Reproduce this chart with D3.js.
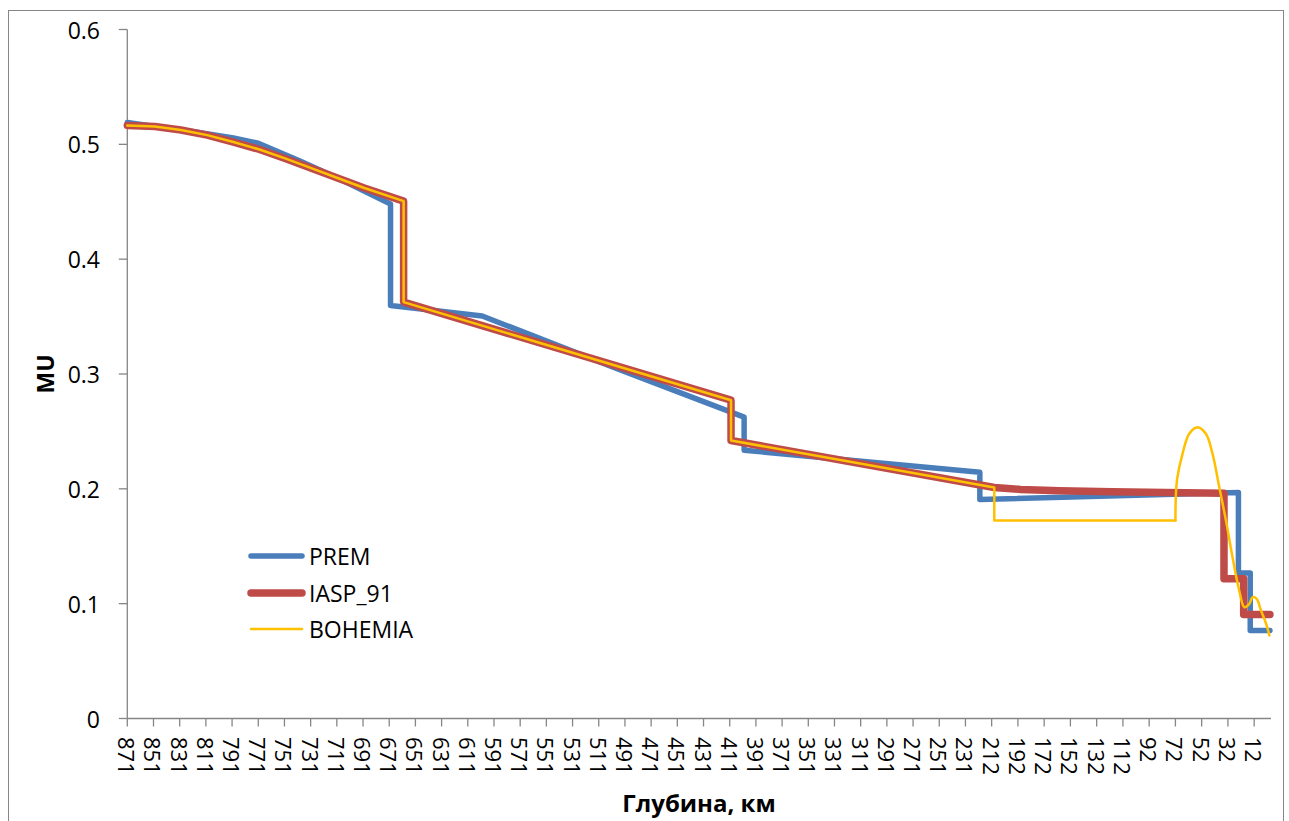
<!DOCTYPE html>
<html>
<head>
<meta charset="utf-8">
<script src="https://cdn.jsdelivr.net/npm/d3@7"></script>
<style>
  body { margin: 0; background: #fff; }
  svg { display: block; }
  text { font-family: "Open Sans", "Noto Sans", "Liberation Sans", sans-serif; fill: #000; }
</style>
</head>
<body>
<svg id="chart" width="1289" height="821"></svg>
<script>
// Depth tick labels along the bottom axis (km)
const depthTicks = [871, 851, 831, 811, 791, 771, 751, 731, 711, 691, 671, 651, 631, 611, 591,
  571, 551, 531, 511, 491, 471, 451, 431, 411, 391, 371, 351, 331, 311, 291, 271, 251, 231,
  212, 192, 172, 152, 132, 112, 92, 72, 52, 32, 12];
const muTicks = [0, 0.1, 0.2, 0.3, 0.4, 0.5, 0.6];
const muTickLabels = ["0", "0.1", "0.2", "0.3", "0.4", "0.5", "0.6"];

// [depth km, MU]; a repeated depth marks a discontinuity
const prem = [
  [871, 0.519], [850, 0.5155], [820, 0.511], [790, 0.5055], [771, 0.501],
  [740, 0.486], [710, 0.4705], [670, 0.448], [670, 0.3597], [600, 0.3505],
  [500, 0.306], [400, 0.2624], [400, 0.2336], [220, 0.2145], [220, 0.1908],
  [24, 0.1968], [24, 0.1268], [15, 0.1268], [15, 0.0766], [0, 0.0766]
];

const iasp91 = [
  [871, 0.5165], [850, 0.5155], [830, 0.5125], [810, 0.508], [790, 0.502],
  [770, 0.4955], [750, 0.4875], [730, 0.479], [710, 0.4705], [690, 0.462],
  [660, 0.4505], [660, 0.3626], [410, 0.2772], [410, 0.2421], [210, 0.2012],
  [190, 0.1995], [160, 0.1983], [120, 0.1975], [80, 0.1969], [35, 0.1962],
  [35, 0.1217], [20, 0.1217], [20, 0.0906], [0, 0.0906]
];

const bohemia = [
  [871, 0.5165], [850, 0.5155], [830, 0.5125], [810, 0.508], [790, 0.502],
  [770, 0.4955], [750, 0.4875], [730, 0.479], [710, 0.4705], [690, 0.462],
  [660, 0.4505], [660, 0.3626], [410, 0.2772], [410, 0.2421], [210, 0.2012],
  [210, 0.1724], [72, 0.1724]
];

// upper-crust part of BOHEMIA, drawn as a smooth curve
const bohemiaCrust = [
  [72, 0.1724], [71.6, 0.196], [70.5, 0.2101], [66.6, 0.2305], [61.5, 0.248],
  [55.2, 0.2537], [48.8, 0.248], [43.7, 0.2305], [38.6, 0.2015], [33.5, 0.1724],
  [28.5, 0.1405], [23.4, 0.1115], [19.5, 0.0969], [15.7, 0.0998], [13.2, 0.1056],
  [10.1, 0.1042], [6.8, 0.094], [2.9, 0.0825], [0.4, 0.0723]
];

const seriesNames = ["PREM", "IASP_91", "BOHEMIA"];
const colors = ["#4A7EBB", "#BE4B48", "#FFC000"];
const widths = [5.5, 7.5, 2.5];

const svg = d3.select("#chart");
const gray = "#868686";

// chart frame
svg.append("rect")
  .attr("x", 8.5).attr("y", 10.5).attr("width", 1275).attr("height", 840)
  .attr("fill", "none").attr("stroke", gray).attr("stroke-width", 1);

const left = 127.3, step = 1.3096;
const x = d3.scaleLinear()
  .domain([871, 220, 219, 0])
  .range([left, left + 651 * step, left + 653 * step, left + 872.5 * step]);
const y = d3.scaleLinear().domain([0, 0.6]).range([718.5, 29.5]);
const axisRight = 1271;

// y axis
const yAxis = svg.append("g");
yAxis.append("line")
  .attr("x1", left).attr("x2", left).attr("y1", y(0.6)).attr("y2", y(0))
  .attr("stroke", gray).attr("stroke-width", 1.3);
yAxis.selectAll("line.tick").data(muTicks).enter().append("line")
  .attr("class", "tick")
  .attr("x1", left - 8.5).attr("x2", left)
  .attr("y1", d => y(d)).attr("y2", d => y(d))
  .attr("stroke", gray).attr("stroke-width", 1.3);
yAxis.selectAll("text").data(muTicks).enter().append("text")
  .attr("x", 100).attr("y", d => y(d))
  .attr("text-anchor", "end").attr("dominant-baseline", "central")
  .style("font-size", "23px")
  .text((d, i) => muTickLabels[i]);

// x axis
const xAxis = svg.append("g");
xAxis.append("line")
  .attr("x1", left).attr("x2", axisRight).attr("y1", y(0)).attr("y2", y(0))
  .attr("stroke", gray).attr("stroke-width", 1.3);
xAxis.selectAll("line.tick").data(depthTicks).enter().append("line")
  .attr("class", "tick")
  .attr("x1", d => x(d)).attr("x2", d => x(d))
  .attr("y1", y(0)).attr("y2", y(0) + 8)
  .attr("stroke", gray).attr("stroke-width", 1.3);
xAxis.selectAll("text").data(depthTicks).enter().append("text")
  .attr("transform", d => `translate(${x(d)},${737}) rotate(90)`)
  .attr("text-anchor", "start").attr("dominant-baseline", "central")
  .style("font-size", "22px")
  .text(d => String(d));

// axis titles
svg.append("text")
  .attr("transform", "translate(45,374) rotate(-90)")
  .attr("text-anchor", "middle").attr("dominant-baseline", "central")
  .style("font-size", "23px").style("font-weight", "bold")
  .text("MU");
svg.append("text")
  .attr("x", 699).attr("y", 802)
  .attr("text-anchor", "middle").attr("dominant-baseline", "central")
  .style("font-size", "24px").style("font-weight", "bold")
  .text("Глубина, км");

// series
const line = d3.line().x(d => x(d[0])).y(d => y(d[1]));
const smooth = d3.line().x(d => x(d[0])).y(d => y(d[1])).curve(d3.curveCatmullRom.alpha(0.5));
const plot = svg.append("g")
  .attr("fill", "none").attr("stroke-linejoin", "round").attr("stroke-linecap", "round");

plot.append("path").datum(prem).attr("d", line)
  .attr("stroke", colors[0]).attr("stroke-width", widths[0]);
plot.append("path").datum(iasp91).attr("d", line)
  .attr("stroke", colors[1]).attr("stroke-width", widths[1]);
plot.append("path").datum(bohemia).attr("d", line)
  .attr("stroke", colors[2]).attr("stroke-width", widths[2]);
plot.append("path").datum(bohemiaCrust).attr("d", smooth)
  .attr("stroke", colors[2]).attr("stroke-width", widths[2]);

// legend
const legend = svg.append("g");
const legendY = [556, 593, 629];
seriesNames.forEach((name, i) => {
  legend.append("line")
    .attr("x1", 251).attr("x2", 302).attr("y1", legendY[i]).attr("y2", legendY[i])
    .attr("stroke", colors[i]).attr("stroke-width", widths[i]).attr("stroke-linecap", "round");
  legend.append("text")
    .attr("x", 309).attr("y", legendY[i])
    .attr("dominant-baseline", "central")
    .style("font-size", "23px")
    .text(name);
});
</script>
</body>
</html>
